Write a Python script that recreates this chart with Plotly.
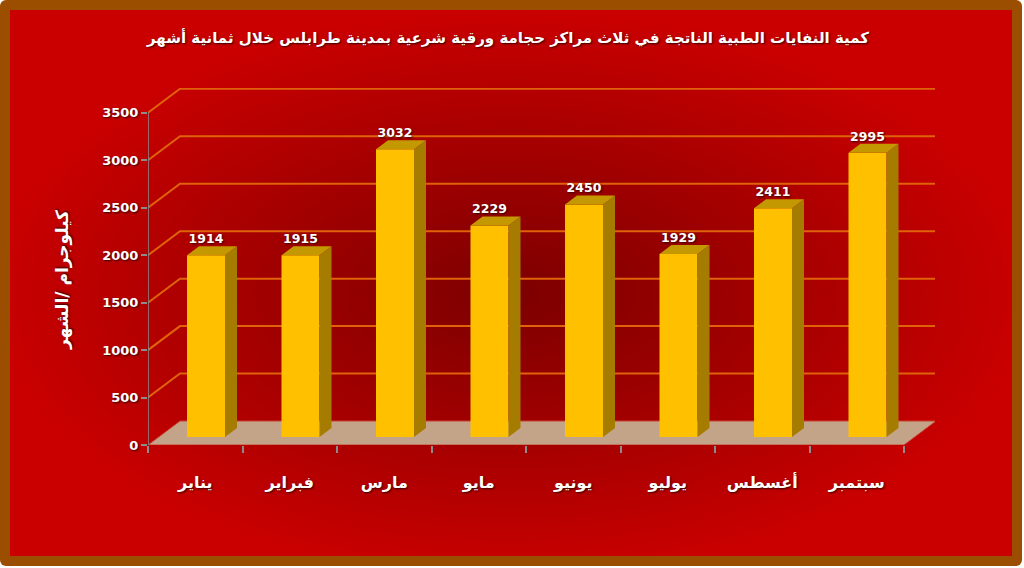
import base64
import plotly.graph_objects as go

# ---------------- data ----------------
months = ["يناير", "فبراير", "مارس", "مايو", "يونيو", "يوليو", "أغسطس", "سبتمبر"]
values = [1914, 1915, 3032, 2229, 2450, 1929, 2411, 2995]
y_ticks = [0, 500, 1000, 1500, 2000, 2500, 3000, 3500]
title_text = "كمية النفايات الطبية الناتجة في ثلاث مراكز حجامة ورقية شرعية بمدينة طرابلس خلال ثمانية أشهر"
y_title = "كيلوجرام /الشهر"

# ---------------- geometry (pixels -> data units) ----------------
W, H = 1024, 568
ML, MR, MT, MB = 148, 89, 88, 123
plot_w = W - ML - MR
plot_h = H - MT - MB
PX_PER_CAT = 94.5
PX_PER_UNIT = 332.2 / 3500.0


def ux(px):
    return px / PX_PER_CAT


def uy(px):
    return px / PX_PER_UNIT


x_range = [-0.5, -0.5 + ux(plot_w)]
y_range = [0, uy(plot_h)]

WDX, WDY = ux(32), uy(24)      # back wall depth
BFX, BFY = ux(10.75), uy(8)    # bar front plane offset
BDX, BDY = ux(12), uy(9)       # bar depth
BW = ux(38)                    # bar width
n = len(months)
xs = list(range(n))
x0, x1 = -0.5, n - 0.5

FONT = "DejaVu Sans"
SHADOW = "1px 1px 2px rgba(40,0,0,0.9)"

fig = go.Figure()

# front faces (bars)
fig.add_trace(go.Bar(
    x=xs, y=values, base=BFY, width=BW, offset=BFX - BW / 2,
    marker=dict(color="#FFC000", line=dict(width=0)),
    hoverinfo="skip", showlegend=False,
))

# side faces and top faces
side_x, side_y, top_x, top_y = [], [], [], []
for i, v in zip(xs, values):
    L = i + BFX - BW / 2
    R = i + BFX + BW / 2
    b = BFY
    t = BFY + v
    side_x += [R, R + BDX, R + BDX, R, R, None]
    side_y += [b, b + BDY, t + BDY, t, b, None]
    top_x += [L, R, R + BDX, L + BDX, L, None]
    top_y += [t, t, t + BDY, t + BDY, t, None]

fig.add_trace(go.Scatter(x=side_x, y=side_y, mode="lines", fill="toself",
                         fillcolor="#A67C00", line=dict(width=0, color="#A67C00"),
                         hoverinfo="skip", showlegend=False))
fig.add_trace(go.Scatter(x=top_x, y=top_y, mode="lines", fill="toself",
                         fillcolor="#C39800", line=dict(width=0, color="#C39800"),
                         hoverinfo="skip", showlegend=False))

# value labels
fig.add_trace(go.Scatter(
    x=[i + BFX for i in xs], y=[v + BFY + BDY for v in values],
    mode="text", text=[str(v) for v in values], textposition="top center",
    textfont=dict(family=FONT, size=12.5, color="white", weight="bold", shadow=SHADOW),
    hoverinfo="skip", showlegend=False, cliponaxis=False,
))

shapes = []
# back wall gridlines
for v in y_ticks[1:]:
    shapes.append(dict(
        type="path", xref="x", yref="y", layer="below",
        path=f"M {x0},{v} L {x0 + WDX},{v + WDY} L {x1 + WDX},{v + WDY}",
        line=dict(color="#E0620A", width=2),
    ))
# floor
shapes.append(dict(
    type="path", xref="x", yref="y", layer="below",
    path=f"M {x0},0 L {x1},0 L {x1 + WDX},{WDY} L {x0 + WDX},{WDY} Z",
    fillcolor="#C4A488", line=dict(color="#C84030", width=1),
))
# y axis line
shapes.append(dict(type="line", xref="x", yref="y", layer="above",
                   x0=x0, x1=x0, y0=0, y1=y_ticks[-1],
                   line=dict(color="#8C8C8C", width=1.5)))

# background (radial gradient + brown frame)
svg = f'''<svg xmlns="http://www.w3.org/2000/svg" width="{W}" height="{H}" viewBox="0 0 {W} {H}">
<defs><radialGradient id="g" cx="50%" cy="52%" r="52%">
<stop offset="0" stop-color="#7C0000"/><stop offset="1" stop-color="#CA0000"/></radialGradient></defs>
<rect x="0" y="0" width="{W - 2}" height="{H - 2}" rx="6" ry="6" fill="#9B4D00"/>
<rect x="10" y="10" width="{W - 22}" height="{H - 22}" fill="url(#g)"/>
</svg>'''
src = "data:image/svg+xml;base64," + base64.b64encode(svg.encode("utf-8")).decode("ascii")

fig.update_layout(
    width=W, height=H,
    margin=dict(l=ML, r=MR, t=MT, b=MB, pad=0),
    paper_bgcolor="white", plot_bgcolor="rgba(0,0,0,0)",
    showlegend=False,
    images=[dict(source=src, xref="paper", yref="paper",
                 x=-ML / plot_w, y=1 + MT / plot_h,
                 sizex=W / plot_w, sizey=H / plot_h,
                 xanchor="left", yanchor="top", sizing="stretch", layer="below")],
    shapes=shapes,
    title=dict(text=title_text, x=508 / W, xanchor="center",
               y=1 - 38 / H, yanchor="middle", xref="container",
               font=dict(family=FONT, size=15, color="white", weight="bold", shadow=SHADOW)),
    xaxis=dict(range=x_range, showgrid=False, zeroline=False, showline=False,
               tickmode="array", tickvals=xs, ticktext=months, ticks="", ticklen=0,
               ticklabelstandoff=26,
               tickfont=dict(family=FONT, size=16, color="white", weight="bold", shadow=SHADOW),
               minor=dict(tickmode="array", tickvals=[i - 0.5 for i in range(n + 1)],
                          ticks="outside", ticklen=7, tickcolor="#8C8C8C", tickwidth=1.5,
                          showgrid=False),
               fixedrange=True),
    yaxis=dict(range=y_range, showgrid=False, zeroline=False, showline=False,
               tickmode="array", tickvals=y_ticks, ticks="outside", ticklen=6,
               tickcolor="#8C8C8C", tickwidth=1.5,
               tickfont=dict(family=FONT, size=13, color="white", weight="bold", shadow=SHADOW),
               fixedrange=True),
    annotations=[dict(text=y_title, xref="paper", yref="paper",
                      x=(62 - ML) / plot_w, y=(H - MB - 280) / plot_h,
                      xanchor="center", yanchor="middle", textangle=-90, showarrow=False,
                      font=dict(family=FONT, size=17, color="white", weight="bold", shadow=SHADOW))],
)

fig.write_html(
    "out.html",
    config={"displayModeBar": False},
    post_script="document.body.style.margin='0';document.body.style.overflow='hidden';",
)
